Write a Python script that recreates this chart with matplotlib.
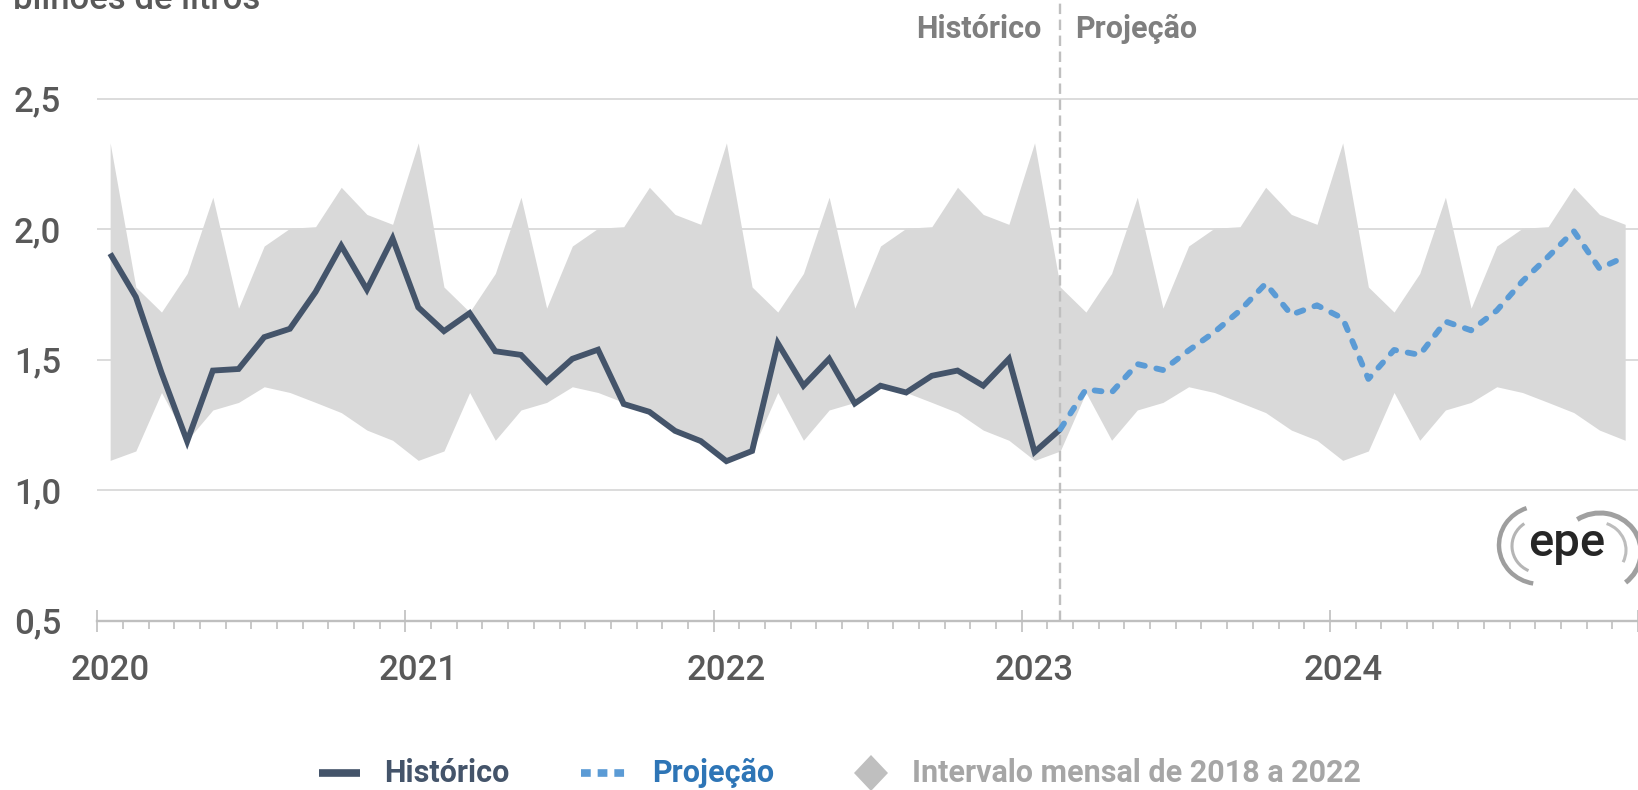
import numpy as np
import matplotlib
matplotlib.use("Agg")
import matplotlib.pyplot as plt
from matplotlib.lines import Line2D
from matplotlib.patches import Arc, Polygon
import matplotlib.transforms as mtransforms

plt.rcParams['font.family'] = ['Roboto', 'DejaVu Sans']
plt.rcParams['lines.scale_dashes'] = False

# ---------------- data ----------------
years = ['2020', '2021', '2022', '2023', '2024']
hist_values = [
    1.906, 1.74, 1.45, 1.187, 1.458, 1.464, 1.586, 1.618, 1.759, 1.936, 1.768, 1.964,   # 2020
    1.70, 1.609, 1.678, 1.532, 1.518, 1.415, 1.503, 1.538, 1.33, 1.30, 1.227, 1.188,    # 2021
    1.111, 1.15, 1.563, 1.40, 1.503, 1.332, 1.40, 1.374, 1.438, 1.458, 1.40, 1.503,     # 2022
    1.146, 1.233,                                                                         # 2023 Jan-Feb
]
proj_values = [
    1.233, 1.386, 1.374, 1.483, 1.46, 1.535, 1.605, 1.688, 1.791, 1.672, 1.708,        # 2023 Feb-Dec
    1.658, 1.426, 1.537, 1.518, 1.646, 1.612, 1.688, 1.80, 1.894, 1.992, 1.849, 1.894,  # 2024
]
band_max = [2.33, 1.778, 1.682, 1.83, 2.122, 1.697, 1.935, 2.003, 2.009, 2.16, 2.056, 2.018]
band_min = [1.114, 1.15, 1.374, 1.191, 1.307, 1.336, 1.396, 1.374, 1.336, 1.297, 1.23, 1.191]
y_ticks = [0.5, 1.0, 1.5, 2.0, 2.5]
y_tick_labels = ['0,5', '1,0', '1,5', '2,0', '2,5']
proj_start_month = 37  # Feb 2023 (index from Jan 2020)

# ---------------- colors ----------------
C_HIST = '#44546A'
C_PROJ = '#5B9BD5'
C_PROJ_TXT = '#2E75B6'
C_BAND = '#D9D9D9'
C_GRID = '#D9D9D9'
C_AXIS = '#BFBFBF'
C_TICK = '#595959'
C_TOPLBL = '#7F7F7F'
C_LEG3 = '#A6A6A6'

W, H = 1638, 790
fig = plt.figure(figsize=(W / 100, H / 100), dpi=100)

ax_left = 97.3 / W
ax_bottom = 1 - 620.7 / H
ax = fig.add_axes([ax_left, ax_bottom, 1 - ax_left, 1 - ax_bottom])
ylim_top = 0.5 + 620.7 / 261.1
ax.set_ylim(0.5, ylim_top)
ax.set_xlim(0, 60)

n_years = len(years)
x_band = np.arange(12 * n_years) + 0.5
ax.fill_between(x_band, np.tile(band_min, n_years), np.tile(band_max, n_years),
                color=C_BAND, lw=0, zorder=1)

x_hist = np.arange(len(hist_values)) + 0.5
ax.plot(x_hist, hist_values, color=C_HIST, lw=4.2, solid_joinstyle='miter',
        solid_capstyle='butt', zorder=3)
x_proj = np.arange(proj_start_month, proj_start_month + len(proj_values)) + 0.5
ax.plot(x_proj, proj_values, color=C_PROJ, lw=4.2, dashes=(5.0, 8.5),
        dash_capstyle='round', zorder=3)

# vertical separator
ax.axvline(proj_start_month + 0.5, color=C_AXIS, lw=1.7, dashes=(7.5, 4), zorder=2)

# grid
for yv in y_ticks[1:]:
    ax.axhline(yv, color=C_GRID, lw=1.3, zorder=0.5)

# spines
for s in ['top', 'right', 'left']:
    ax.spines[s].set_visible(False)
ax.spines['bottom'].set_color(C_AXIS)
ax.spines['bottom'].set_linewidth(1.7)
ax.spines['bottom'].set_zorder(4)

ax.set_yticks(y_ticks)
ax.set_yticklabels(y_tick_labels)
ax.tick_params(axis='y', length=0, pad=26, labelsize=25, labelcolor=C_TICK)
for lbl in ax.get_yticklabels():
    lbl.set_fontweight('medium')

ax.set_xticks(np.arange(0, 61, 12))
ax.set_xticklabels([])
ax.set_xticks(np.arange(0, 61, 1), minor=True)
ax.tick_params(axis='x', which='major', direction='inout', length=16, width=1.2, color=C_AXIS)
ax.tick_params(axis='x', which='minor', direction='out', length=5.8, width=1.2, color=C_AXIS)

trans = mtransforms.blended_transform_factory(ax.transData, ax.transAxes)
for i, yr in enumerate(years):
    ax.text(12 * i + 0.5, -49.3 / 620.7, yr, transform=trans, ha='center', va='center',
            fontsize=25, fontweight='medium', color=C_TICK)

# top labels
def fx(px):
    return px / W

def fy(py):
    return 1 - py / H

fig.text(fx(1042), fy(28.5), 'Histórico', ha='right', va='center', fontsize=22,
         fontweight='bold', color=C_TOPLBL)
fig.text(fx(1075), fy(28.5), 'Projeção', ha='left', va='center', fontsize=22,
         fontweight='bold', color=C_TOPLBL)

# unit label (cut off at the top edge, as in the original)
fig.text(fx(13), fy(9), 'bilhões de litros', ha='left', va='baseline', fontsize=25,
         fontweight='medium', color=C_TICK)

# legend (manual)
ly = fy(773)
fig.add_artist(Line2D([fx(319), fx(360)], [ly, ly], color=C_HIST, lw=5.5,
                      solid_capstyle='butt', transform=fig.transFigure))
fig.text(fx(384), ly, 'Histórico', ha='left', va='center', fontsize=22,
         fontweight='bold', color=C_HIST)
fig.add_artist(Line2D([fx(581), fx(625)], [ly, ly], color=C_PROJ, lw=5.5,
                      dashes=(7, 5), dash_capstyle='butt', transform=fig.transFigure))
fig.text(fx(652), ly, 'Projeção', ha='left', va='center', fontsize=22,
         fontweight='bold', color=C_PROJ_TXT)
dcx, dcy = 871, 773
diamond = Polygon([(fx(dcx - 17), fy(dcy)), (fx(dcx), fy(dcy - 18)),
                   (fx(dcx + 17), fy(dcy)), (fx(dcx), fy(dcy + 18))],
                  closed=True, facecolor=C_AXIS, edgecolor='none', transform=fig.transFigure)
fig.add_artist(diamond)
fig.text(fx(912), ly, 'Intervalo mensal de 2018 a 2022', ha='left', va='center',
         fontsize=22, fontweight='bold', color=C_LEG3)

# epe logo
lax = fig.add_axes([fx(1478), fy(600), 160 / W, 120 / H])
lax.set_xlim(1478, 1638)
lax.set_ylim(600, 480)
lax.axis('off')
lax.add_patch(Arc((1540, 545), 82, 78, theta1=100, theta2=250, color='#9E9E9E', lw=3.2))
lax.add_patch(Arc((1540, 546), 56, 54, theta1=115, theta2=235, color='#B5B5B5', lw=2.2))
lax.add_patch(Arc((1600, 552), 82, 78, theta1=-125, theta2=50, color='#A0A0A0', lw=3.6))
lax.add_patch(Arc((1597, 550), 58, 56, theta1=-70, theta2=25, color='#BDBDBD', lw=2.2))
lax.text(1567, 543, 'epe', ha='center', va='center', fontsize=34, color='#262626',
         fontweight='medium')

fig.savefig('out.png', dpi=100)
